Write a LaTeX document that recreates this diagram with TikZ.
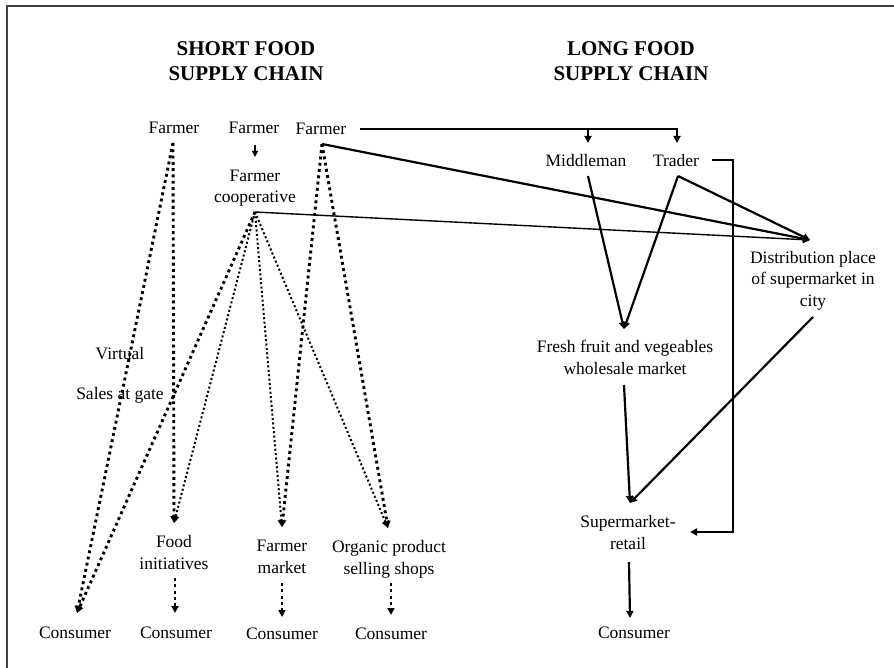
\documentclass[tikz,border=0pt]{standalone}
\usepackage{fontspec}
\setmainfont{Liberation Serif}
\usetikzlibrary{arrows.meta}

\begin{document}
\begin{tikzpicture}[
  x=1pt, y=-1pt,
  font=\fontsize{17.5}{21.5}\selectfont,
  lbl/.style={inner sep=0pt, anchor=base, align=center},
  ttl/.style={inner sep=0pt, anchor=center, align=center,
    font=\fontsize{21}{25}\selectfont\bfseries},
  tip/.style={-{Triangle[length=7pt,width=7pt]}},
  flow/.style={line width=2.2pt, tip},
  thinflow/.style={line width=1.4pt},
  dotthick/.style={line width=2.9pt, dash pattern=on 2.9pt off 3.4pt, tip},
  dotthin/.style={line width=2pt, dash pattern=on 2pt off 2.4pt, tip},
  frame/.style={draw=black!75, line width=2pt}
]
\useasboundingbox (0,0) rectangle (894,668);

% open frame along the top and left edges
\draw[frame] (7,668) -- (7,6) -- (894,6);

% headings
\node[ttl] (tshort) at (246,61) {SHORT FOOD\\SUPPLY CHAIN};
\node[ttl] (tlong)  at (631,61) {LONG FOOD\\SUPPLY CHAIN};

% producers (multi-line labels sit on the baseline of their last line)
\node[lbl] (f1) at (174,134) {Farmer};
\node[lbl] (f2) at (254,134) {Farmer};
\node[lbl] (f3) at (321,135) {Farmer};
\node[lbl] (coop) at (255,203) {Farmer\\cooperative};

% short chain outlets
\node[lbl] (virt) at (120,359) {Virtual};
\node[lbl] (gate) at (120,399) {Sales at gate};
\node[lbl] (food) at (174,569) {Food\\initiatives};
\node[lbl] (fmkt) at (282,573) {Farmer\\market};
\node[lbl] (org)  at (389,574) {Organic product\\selling shops};
\node[lbl] (c1) at (75,638)  {Consumer};
\node[lbl] (c2) at (176,638) {Consumer};
\node[lbl] (c3) at (282,639) {Consumer};
\node[lbl] (c4) at (391,639) {Consumer};

% long chain stages
\node[lbl] (mid)   at (586,167) {Middleman};
\node[lbl] (trade) at (676,167) {Trader};
\node[lbl] (dist)  at (813,306) {Distribution place\\of supermarket in\\city};
\node[lbl] (fresh) at (625,374) {Fresh fruit and vegeables\\wholesale market};
\node[lbl] (super) at (628,549) {Supermarket-\\retail};
\node[lbl] (c5)    at (634,638) {Consumer};

% connector end points
\coordinate (f1o)   at (173,143);
\coordinate (f2o)   at (255,145);
\coordinate (coopi) at (255,157);
\coordinate (f3o)   at (322,144);
\coordinate (f3r)   at (360,129);
\coordinate (coopo) at (255,212);
\coordinate (c1i)   at (77,613);
\coordinate (foodi) at (174,523);
\coordinate (fmkti) at (282,527);
\coordinate (orgi)  at (388,528);
\coordinate (foodo) at (175,578);
\coordinate (c2i)   at (175,613);
\coordinate (fmkto) at (282,583);
\coordinate (c3i)   at (282,617);
\coordinate (orgo)  at (391,583);
\coordinate (c4i)   at (391,615);
\coordinate (midi)  at (588,143);
\coordinate (midb)  at (588,129);
\coordinate (tradi) at (677,143);
\coordinate (tradb) at (677,129);
\coordinate (mido)  at (588,176);
\coordinate (trado) at (678,176);
\coordinate (tradr) at (712,160);
\coordinate (brk1)  at (733,160);
\coordinate (brk2)  at (733,532);
\coordinate (superr) at (690,532);
\coordinate (disti) at (810,240);
\coordinate (disto) at (813,317);
\coordinate (freshi) at (624,329);
\coordinate (fresho) at (624,385);
\coordinate (superi) at (630,503);
\coordinate (supero) at (629,562);
\coordinate (c5i)   at (630,618);

% short food supply chain
\draw[line width=1.4pt, -{Triangle[length=6pt,width=6pt]}] (f2o) -- (coopi);
\draw[dotthick] (f1o) -- (c1i);
\draw[dotthick] (f1o) -- (foodi);
\draw[dotthick] (coopo) -- (c1i);
\draw[dotthin]  (coopo) -- (foodi);
\draw[dotthin]  (coopo) -- (fmkti);
\draw[dotthin]  (coopo) -- (orgi);
\draw[dotthick] (f3o) -- (fmkti);
\draw[dotthick] (f3o) -- (orgi);
\draw[dotthick] (foodo) -- (c2i);
\draw[dotthick] (fmkto) -- (c3i);
\draw[dotthick] (orgo) -- (c4i);

% long food supply chain
\draw[flow] (f3r) -- (tradb) -- (tradi);
\draw[flow] (midb) -- (midi);
\draw[flow] (f3o) -- (disti);
\draw[thinflow, tip] (coopo) -- (disti);
\draw[flow] (mido) -- (freshi);
\draw[flow] (trado) -- (freshi);
\draw[flow] (trado) -- (disti);
\draw[flow] (tradr) -- (brk1) -- (brk2) -- (superr);
\draw[flow] (fresho) -- (superi);
\draw[flow] (disto) -- (superi);
\draw[flow] (supero) -- (c5i);
\end{tikzpicture}
\end{document}
